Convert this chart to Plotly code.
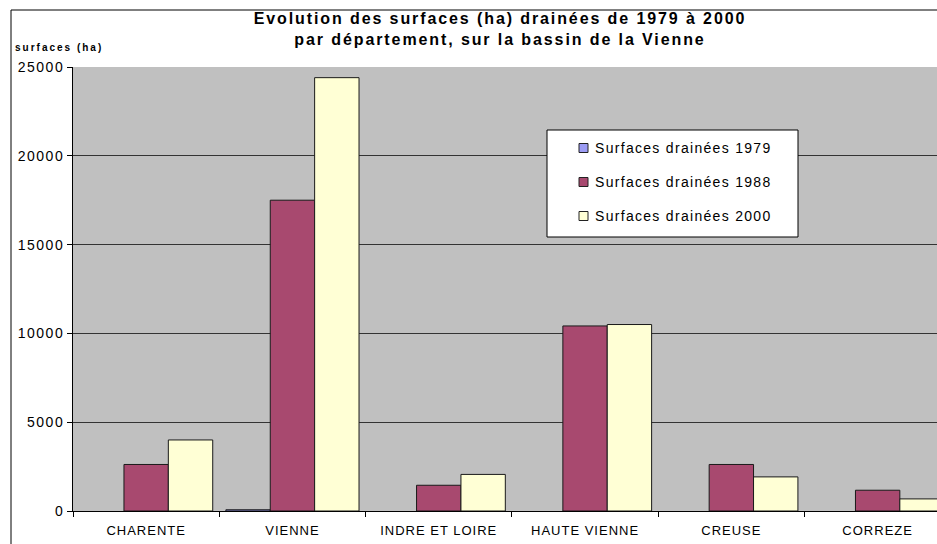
import plotly.graph_objects as go

# Departments of the Vienne basin and drained surfaces (ha)
categories = ["CHARENTE", "VIENNE", "INDRE ET LOIRE", "HAUTE VIENNE", "CREUSE", "CORREZE"]
series_names = ["Surfaces drainées 1979", "Surfaces drainées 1988", "Surfaces drainées 2000"]
surf_1979 = [0, 70, 0, 0, 0, 0]
surf_1988 = [2620, 17500, 1450, 10420, 2620, 1170]
surf_2000 = [4000, 24400, 2060, 10500, 1920, 680]
y_ticks = [0, 5000, 10000, 15000, 20000, 25000]

series_values = [surf_1979, surf_1988, surf_2000]
series_colors = ["#9C9CF4", "#A8496F", "#FFFFD5"]

W, H = 937, 544
ML, MR, MT, MB = 73, 0, 67, 33
PW, PH = W - ML - MR, H - MT - MB
FONT = "Arial, Liberation Sans, sans-serif"


def px_x(px):
    return (px - ML) / PW


def px_y(py):
    return (H - MB - py) / PH


def spaced(text, ls):
    return f'<span style="letter-spacing:{ls}px">{text}</span>'


fig = go.Figure()
for name, vals, col in zip(series_names, series_values, series_colors):
    fig.add_trace(go.Bar(
        name=name, x=categories, y=vals,
        marker=dict(color=col,
                    line=dict(color="#1a1a1a", width=[1 if v > 0 else 0 for v in vals])),
        showlegend=False,
    ))

shapes = []
annotations = []

# outer chart frame
shapes.append(dict(type="rect", xref="paper", yref="paper",
                   x0=px_x(11), x1=px_x(960), y0=px_y(560), y1=px_y(10),
                   line=dict(color="black", width=1), fillcolor="rgba(0,0,0,0)",
                   layer="above"))

# legend box
shapes.append(dict(type="rect", xref="paper", yref="paper",
                   x0=px_x(547), x1=px_x(798), y0=px_y(237), y1=px_y(130),
                   line=dict(color="black", width=1), fillcolor="white",
                   layer="above"))
for i, (name, col) in enumerate(zip(series_names, series_colors)):
    cy = 148 + i * 34
    shapes.append(dict(type="rect", xref="paper", yref="paper",
                       x0=px_x(579), x1=px_x(588), y0=px_y(cy + 4.5), y1=px_y(cy - 4.5),
                       line=dict(color="#222222", width=1), fillcolor=col,
                       layer="above"))
    annotations.append(dict(text=spaced(name, 1.3), xref="paper", yref="paper",
                            x=px_x(593), y=px_y(cy), xanchor="left", yanchor="middle",
                            showarrow=False, font=dict(family=FONT, size=14, color="black")))

# y-axis caption
annotations.append(dict(text="<b>" + spaced("surfaces (ha)", 2) + "</b>",
                        xref="paper", yref="paper",
                        x=px_x(13), y=px_y(47), xanchor="left", yanchor="middle",
                        showarrow=False,
                        font=dict(family=FONT, size=10, color="black")))

title_lines = ["Evolution des surfaces (ha) drainées de 1979 à 2000",
               "par département, sur la bassin de la Vienne"]

fig.update_layout(
    width=W, height=H,
    margin=dict(l=ML, r=MR, t=MT, b=MB, pad=0),
    paper_bgcolor="white", plot_bgcolor="#C0C0C0",
    barmode="group", bargap=0.09, bargroupgap=0,
    title=dict(
        text="<br>".join("<b>" + spaced(t, 1.9) + "</b>" for t in title_lines),
        x=500 / W, xanchor="center", xref="container",
        y=1 - 24 / H, yanchor="middle", yref="container",
        font=dict(family=FONT, size=16, color="black"),
    ),
    font=dict(family=FONT, size=13, color="black"),
    xaxis=dict(
        range=[-0.5, -0.5 + PW / 146.3],
        tickvals=categories, ticktext=[spaced(c, 1) for c in categories],
        showline=True, linecolor="black", linewidth=1,
        ticks="outside", tickson="boundaries", ticklen=5, tickcolor="black",
        ticklabelstandoff=7,
        tickfont=dict(family=FONT, size=13, color="black"),
        showgrid=False, zeroline=False, fixedrange=True,
    ),
    yaxis=dict(
        range=[0, 25000], tickvals=y_ticks,
        ticktext=[spaced(str(v), 1.5) for v in y_ticks],
        showline=True, linecolor="black", linewidth=1,
        ticks="outside", ticklen=5, tickcolor="black",
        tickfont=dict(family=FONT, size=14, color="black"),
        showgrid=True, gridcolor="#333333", gridwidth=1,
        zeroline=False, fixedrange=True,
    ),
    shapes=shapes,
    annotations=annotations,
)

fig.write_html("out.html")
